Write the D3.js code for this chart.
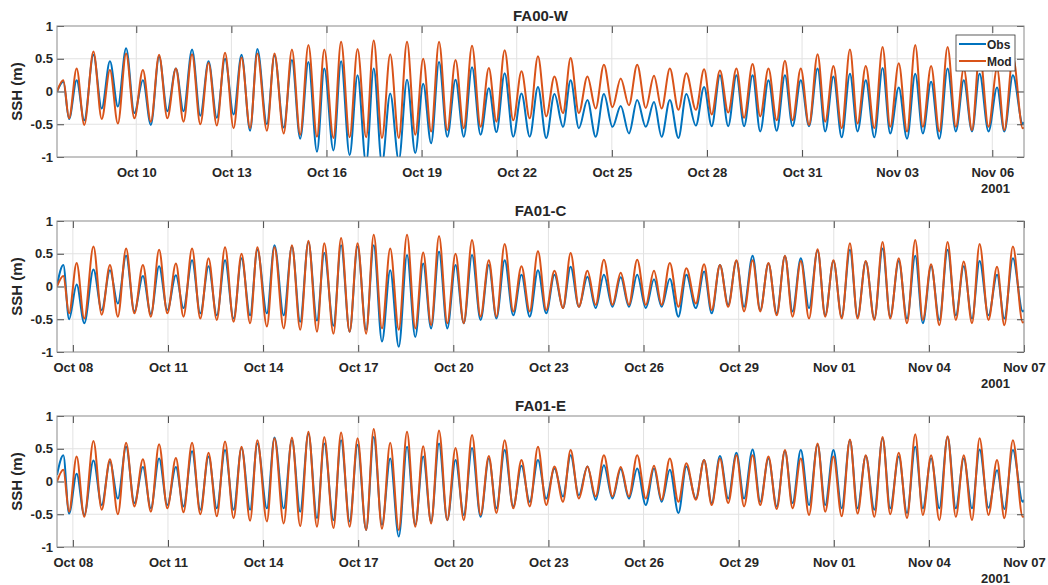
<!DOCTYPE html>
<html><head><meta charset="utf-8">
<script src="https://cdn.jsdelivr.net/npm/d3@7"></script>
<style>
body{margin:0;background:#fff}
svg{display:block}
text{font-family:"Liberation Sans",Arial,Helvetica,sans-serif;font-weight:bold;fill:#262626}
</style>
</head><body>
<svg id="chart" width="1048" height="585"></svg>
<script>
// Times of successive high / low waters (day of October 2001, fractional; 32 = Nov 01)
const tideDays = [7.50,7.70,7.88,8.12,8.36,8.65,8.91,9.17,9.42,9.68,9.94,10.21,10.46,10.72,10.98,11.25,11.49,11.76,12.02,12.28,
12.54,12.80,13.07,13.32,13.59,13.82,14.12,14.36,14.65,14.91,15.17,15.43,15.70,15.93,16.22,16.46,16.73,16.98,17.25,17.49,
17.75,18.01,18.28,18.54,18.80,19.05,19.30,19.55,19.81,20.07,20.33,20.59,20.86,21.12,21.36,21.62,21.89,22.15,22.41,22.67,
22.93,23.19,23.46,23.70,23.96,24.23,24.49,24.75,25.02,25.28,25.54,25.80,26.07,26.33,26.57,26.83,27.10,27.35,27.65,27.91,
28.15,28.41,28.67,28.93,29.17,29.44,29.68,29.94,30.20,30.46,30.70,30.96,31.22,31.49,31.73,31.99,32.25,32.51,32.75,33.01,
33.28,33.54,33.78,34.05,34.31,34.57,34.81,35.07,35.33,35.59,35.85,36.10,36.36,36.60,36.88,37.15,37.38,37.65,37.96,38.00];

// SSH (m) at those times
const fa00wObs = [0.00,0.15,-0.42,0.17,-0.44,0.56,-0.26,0.46,-0.23,0.66,-0.33,0.17,-0.51,0.53,-0.30,0.35,-0.30,0.64,-0.37,0.46,
-0.40,0.50,-0.35,0.56,-0.60,0.65,-0.50,0.55,-0.55,0.48,-0.72,0.45,-0.92,0.35,-0.90,0.46,-0.97,0.25,-1.10,0.35,
-1.10,-0.03,-1.05,0.18,-0.94,0.12,-0.79,0.45,-0.69,0.18,-0.69,0.37,-0.66,0.05,-0.62,0.28,-0.69,-0.03,-0.69,0.07,
-0.71,-0.04,-0.54,0.17,-0.56,-0.13,-0.69,-0.04,-0.54,-0.22,-0.64,-0.13,-0.54,-0.16,-0.69,-0.13,-0.71,-0.04,-0.52,0.07,
-0.53,0.25,-0.53,0.25,-0.53,0.25,-0.61,0.17,-0.60,0.25,-0.53,0.17,-0.53,0.35,-0.61,0.23,-0.70,0.27,-0.61,0.17,
-0.70,0.36,-0.64,0.06,-0.72,0.27,-0.64,0.15,-0.72,0.35,-0.61,0.17,-0.61,0.27,-0.61,0.06,-0.61,0.25,-0.49,-0.47];
const fa00wMod = [0.00,0.17,-0.41,0.35,-0.51,0.61,-0.42,0.33,-0.49,0.58,-0.41,0.33,-0.46,0.56,-0.41,0.35,-0.46,0.57,-0.50,0.44,
-0.52,0.59,-0.56,0.52,-0.56,0.58,-0.60,0.58,-0.64,0.64,-0.66,0.71,-0.69,0.64,-0.71,0.76,-0.70,0.65,-0.70,0.78,
-0.71,0.57,-0.71,0.76,-0.66,0.50,-0.61,0.76,-0.59,0.48,-0.56,0.70,-0.54,0.36,-0.46,0.63,-0.44,0.31,-0.41,0.54,
-0.38,0.23,-0.33,0.51,-0.33,0.23,-0.26,0.41,-0.24,0.20,-0.21,0.41,-0.25,0.24,-0.26,0.35,-0.28,0.28,-0.28,0.34,
-0.35,0.32,-0.32,0.35,-0.40,0.42,-0.38,0.35,-0.44,0.47,-0.44,0.35,-0.51,0.57,-0.46,0.39,-0.56,0.64,-0.49,0.39,
-0.56,0.68,-0.54,0.43,-0.61,0.71,-0.54,0.39,-0.61,0.68,-0.54,0.35,-0.59,0.60,-0.54,0.35,-0.59,0.53,-0.56,-0.55];
const fa01cObs = [0.02,0.33,-0.50,0.03,-0.56,0.26,-0.36,0.25,-0.26,0.47,-0.38,0.16,-0.42,0.31,-0.36,0.17,-0.33,0.40,-0.41,0.31,
-0.44,0.40,-0.49,0.43,-0.44,0.56,-0.41,0.63,-0.44,0.61,-0.54,0.68,-0.52,0.51,-0.60,0.63,-0.69,0.61,-0.66,0.63,
-0.84,0.25,-0.92,0.48,-0.77,0.35,-0.64,0.53,-0.64,0.33,-0.56,0.48,-0.51,0.33,-0.49,0.40,-0.44,0.18,-0.46,0.25,
-0.41,0.18,-0.33,0.30,-0.31,0.15,-0.33,0.18,-0.31,0.14,-0.31,0.18,-0.33,0.11,-0.31,0.12,-0.46,0.18,-0.33,0.23,
-0.41,0.33,-0.28,0.39,-0.31,0.47,-0.36,0.35,-0.41,0.46,-0.38,0.43,-0.33,0.55,-0.44,0.39,-0.46,0.56,-0.46,0.38,
-0.49,0.58,-0.46,0.39,-0.49,0.47,-0.56,0.31,-0.51,0.56,-0.44,0.31,-0.49,0.39,-0.44,0.18,-0.49,0.43,-0.38,-0.36];
const fa01cMod = [0.00,0.16,-0.41,0.36,-0.49,0.61,-0.43,0.33,-0.46,0.58,-0.41,0.33,-0.46,0.56,-0.41,0.35,-0.46,0.58,-0.49,0.43,
-0.51,0.60,-0.54,0.50,-0.56,0.60,-0.61,0.60,-0.64,0.63,-0.66,0.70,-0.69,0.66,-0.72,0.74,-0.69,0.66,-0.72,0.79,
-0.64,0.58,-0.66,0.79,-0.64,0.52,-0.59,0.77,-0.56,0.50,-0.56,0.71,-0.46,0.40,-0.46,0.65,-0.38,0.31,-0.38,0.54,
-0.36,0.24,-0.33,0.51,-0.31,0.24,-0.28,0.41,-0.28,0.21,-0.28,0.41,-0.28,0.24,-0.28,0.36,-0.31,0.28,-0.26,0.34,
-0.36,0.33,-0.31,0.40,-0.38,0.40,-0.38,0.36,-0.44,0.47,-0.46,0.39,-0.49,0.57,-0.46,0.40,-0.49,0.66,-0.49,0.39,
-0.51,0.68,-0.49,0.43,-0.56,0.71,-0.51,0.34,-0.59,0.68,-0.51,0.38,-0.56,0.65,-0.51,0.30,-0.59,0.61,-0.55,-0.54];
const fa01eObs = [0.10,0.40,-0.49,0.12,-0.51,0.32,-0.36,0.30,-0.26,0.53,-0.33,0.22,-0.41,0.35,-0.36,0.22,-0.38,0.46,-0.43,0.38,
-0.41,0.48,-0.43,0.51,-0.43,0.58,-0.41,0.67,-0.41,0.63,-0.46,0.73,-0.56,0.58,-0.59,0.63,-0.61,0.56,-0.74,0.68,
-0.66,0.35,-0.84,0.53,-0.66,0.38,-0.61,0.58,-0.59,0.33,-0.51,0.51,-0.54,0.35,-0.41,0.48,-0.38,0.24,-0.31,0.33,
-0.26,0.20,-0.23,0.40,-0.21,0.23,-0.28,0.25,-0.26,0.19,-0.26,0.20,-0.36,0.20,-0.31,0.18,-0.48,0.23,-0.26,0.33,
-0.33,0.39,-0.26,0.44,-0.26,0.49,-0.31,0.35,-0.38,0.46,-0.33,0.48,-0.36,0.56,-0.36,0.48,-0.41,0.63,-0.41,0.39,
-0.43,0.66,-0.41,0.38,-0.48,0.53,-0.41,0.35,-0.41,0.68,-0.41,0.35,-0.41,0.49,-0.40,0.17,-0.42,0.48,-0.31,-0.28];
const fa01eMod = [0.00,0.18,-0.46,0.38,-0.54,0.62,-0.43,0.34,-0.50,0.59,-0.38,0.34,-0.46,0.57,-0.41,0.36,-0.47,0.59,-0.50,0.44,
-0.53,0.61,-0.56,0.53,-0.60,0.63,-0.61,0.66,-0.64,0.67,-0.68,0.76,-0.69,0.68,-0.71,0.75,-0.69,0.66,-0.74,0.80,
-0.72,0.59,-0.74,0.76,-0.69,0.54,-0.64,0.78,-0.59,0.51,-0.59,0.71,-0.51,0.39,-0.48,0.63,-0.41,0.33,-0.38,0.53,
-0.36,0.23,-0.31,0.48,-0.26,0.23,-0.23,0.40,-0.23,0.22,-0.23,0.40,-0.26,0.24,-0.28,0.35,-0.31,0.28,-0.28,0.33,
-0.36,0.35,-0.33,0.40,-0.38,0.40,-0.36,0.38,-0.42,0.48,-0.41,0.35,-0.51,0.58,-0.46,0.38,-0.53,0.64,-0.49,0.40,
-0.54,0.68,-0.50,0.44,-0.56,0.72,-0.51,0.40,-0.59,0.69,-0.54,0.40,-0.59,0.66,-0.51,0.33,-0.56,0.63,-0.54,-0.53];

const panelTitles = ["FA00-W", "FA01-C", "FA01-E"];
const panelObs = [fa00wObs, fa01cObs, fa01eObs];
const panelMod = [fa00wMod, fa01cMod, fa01eMod];
const tickDaysTop = [10, 13, 16, 19, 22, 25, 28, 31, 34, 37];
const tickDaysOther = [8, 11, 14, 17, 20, 23, 26, 29, 32, 35, 38];
const panelTickDays = [tickDaysTop, tickDaysOther, tickDaysOther];
const yTickValues = [-1, -0.5, 0, 0.5, 1];
const xDomainDays = [7.5, 38];
const yearLabel = "2001";
const legendNames = ["Obs", "Mod"];
const yAxisLabel = "SSH (m)";

const colObs = "#0072BD", colMod = "#D95319";
const toDate = d => new Date(Date.UTC(2001, 9, 1) + (d - 1) * 864e5);

const svg = d3.select("#chart");
svg.append("rect").attr("width", 1048).attr("height", 585).attr("fill", "#fff");

const L = 57, R = 1024, H = 131, tops = [26, 221, 416];
const x = d3.scaleUtc().domain(xDomainDays.map(toDate)).range([L, R]);
const fmt = d3.utcFormat("%b %d");

tops.forEach((top, p) => {
  const y = d3.scaleLinear().domain([-1, 1]).range([top + H, top]);
  const g = svg.append("g");
  const ticks = panelTickDays[p].map(toDate);

  // grid
  g.append("g").selectAll("line").data(ticks).join("line")
    .attr("x1", d => x(d)).attr("x2", d => x(d)).attr("y1", top).attr("y2", top + H)
    .attr("stroke", "#e2e2e2").attr("stroke-width", 1);
  g.append("g").selectAll("line").data(yTickValues.slice(1, -1)).join("line")
    .attr("x1", L).attr("x2", R).attr("y1", d => y(d)).attr("y2", d => y(d))
    .attr("stroke", "#e2e2e2").attr("stroke-width", 1);

  // series
  const clipId = "clip" + p;
  svg.append("clipPath").attr("id", clipId).append("rect")
    .attr("x", L).attr("y", top).attr("width", R - L).attr("height", H);
  const line = vals => d3.line()
    .x((d, i) => x(toDate(tideDays[i])))
    .y(d => y(d))
    .curve(d3.curveMonotoneX)(vals);
  const lg = g.append("g").attr("clip-path", `url(#${clipId})`);
  lg.append("path").attr("d", line(panelObs[p])).attr("fill", "none")
    .attr("stroke", colObs).attr("stroke-width", 2).attr("stroke-linejoin", "round");
  lg.append("path").attr("d", line(panelMod[p])).attr("fill", "none")
    .attr("stroke", colMod).attr("stroke-width", 2).attr("stroke-linejoin", "round");

  // axes
  const ax = g.append("g").attr("transform", `translate(0,${top + H})`)
    .call(d3.axisBottom(x).tickValues(ticks).tickFormat(fmt).tickSizeInner(-7).tickSizeOuter(0).tickPadding(11));
  const axT = g.append("g").attr("transform", `translate(0,${top})`)
    .call(d3.axisTop(x).tickValues(ticks).tickFormat("").tickSizeInner(-7).tickSizeOuter(0));
  const ay = g.append("g").attr("transform", `translate(${L},0)`)
    .call(d3.axisLeft(y).tickValues(yTickValues).tickFormat(d => String(d)).tickSizeInner(-7).tickSizeOuter(0).tickPadding(4));
  const ayR = g.append("g").attr("transform", `translate(${R},0)`)
    .call(d3.axisRight(y).tickValues(yTickValues).tickFormat("").tickSizeInner(-7).tickSizeOuter(0));
  [ax, axT, ay, ayR].forEach(a => {
    a.select(".domain").remove();
    a.selectAll(".tick line").attr("stroke", "#4a4a4a").attr("stroke-width", 1);
    a.selectAll("text").attr("font-size", 13).attr("fill", "#262626")
      .attr("font-family", '"Liberation Sans",Arial,sans-serif').attr("font-weight", "bold");
  });

  // box
  g.append("rect").attr("x", L).attr("y", top).attr("width", R - L).attr("height", H)
    .attr("fill", "none").attr("stroke", "#8a8a8a").attr("stroke-width", 1);

  // title
  g.append("text").attr("x", (L + R) / 2).attr("y", top - 5).attr("text-anchor", "middle")
    .attr("font-size", 15).text(panelTitles[p]);
  // y label
  g.append("text").attr("transform", `translate(21.5,${top + H / 2}) rotate(-90)`)
    .attr("text-anchor", "middle").attr("font-size", 15).text(yAxisLabel);
  // year
  g.append("text").attr("x", 1010).attr("y", top + H + 36).attr("text-anchor", "end")
    .attr("font-size", 13).text(yearLabel);

  // legend
  if (p === 0) {
    const lgd = svg.append("g");
    lgd.append("rect").attr("x", 956).attr("y", 35).attr("width", 59).attr("height", 36)
      .attr("fill", "#fff").attr("stroke", "#333").attr("stroke-width", 0.8);
    [colObs, colMod].forEach((c, i) => {
      const yy = 44 + i * 17;
      lgd.append("line").attr("x1", 959).attr("x2", 986).attr("y1", yy).attr("y2", yy)
        .attr("stroke", c).attr("stroke-width", 2);
      lgd.append("text").attr("x", 987).attr("y", yy + 4.5).attr("font-size", 12).text(legendNames[i]);
    });
  }
});
</script>
</body></html>
